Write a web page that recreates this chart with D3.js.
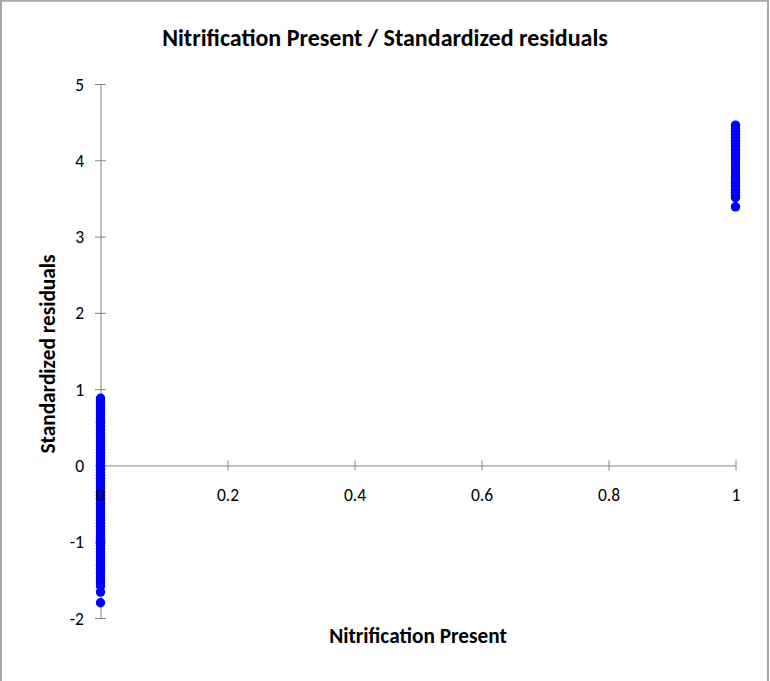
<!DOCTYPE html>
<html>
<head>
<meta charset="utf-8">
<script src="https://cdn.jsdelivr.net/npm/d3@7"></script>
<style>
  html, body { margin: 0; padding: 0; background: #fff; }
  svg { display: block; font-family: Carlito, Calibri, Lato, "Open Sans", sans-serif; }
</style>
</head>
<body>
<svg id="chart" width="770" height="681"></svg>
<script>
// Standardized residuals by nitrification presence (0 = absent, 1 = present)
const residualsAbsent = [
  0.88, 0.84, 0.80, 0.77, 0.74, 0.70, 0.66, 0.62, 0.58, 0.55, 0.51, 0.47,
  0.43, 0.40, 0.36, 0.32, 0.28, 0.25, 0.21, 0.17, 0.13, 0.10, 0.06, 0.02,
  -0.02, -0.05, -0.09, -0.13, -0.17, -0.20, -0.24, -0.28, -0.31, -0.35,
  -0.39, -0.43, -0.46, -0.50, -0.54, -0.57, -0.61, -0.65, -0.69, -0.72,
  -0.76, -0.80, -0.83, -0.87, -0.91, -0.94, -0.98, -1.02, -1.05, -1.09,
  -1.13, -1.17, -1.20, -1.24, -1.28, -1.31, -1.35, -1.39, -1.42, -1.46,
  -1.50, -1.54, -1.58, -1.66, -1.80
];
const residualsPresent = [
  4.46, 4.42, 4.38, 4.34, 4.30, 4.26, 4.22, 4.18, 4.14, 4.10, 4.06, 4.02,
  3.98, 3.94, 3.90, 3.86, 3.82, 3.78, 3.74, 3.70, 3.66, 3.62, 3.58, 3.54,
  3.51, 3.39
];
const groupValues = [0, 1];
const xTicks = [0, 0.2, 0.4, 0.6, 0.8, 1];
const yTicks = [-2, -1, 0, 1, 2, 3, 4, 5];

const titleText = "Nitrification Present / Standardized residuals";
const xTitle = "Nitrification Present";
const yTitle = "Standardized residuals";

const points = [
  ...residualsAbsent.map(r => ({ x: groupValues[0], y: r })),
  ...residualsPresent.map(r => ({ x: groupValues[1], y: r }))
];

const svg = d3.select("#chart");
const W = 770, H = 681;
const plot = { left: 100.5, right: 735.5, top: 84, bottom: 618 };

const x = d3.scaleLinear().domain([0, 1]).range([plot.left, plot.right]);
const y = d3.scaleLinear().domain([-2, 5]).range([plot.bottom, plot.top]);

const axisColor = "#868686";
const tickFont = 17.5;
const xLabelOffset = 36;

// outer chart frame (bottom edge runs past the canvas)
svg.append("rect")
  .attr("x", 1).attr("y", 0.75)
  .attr("width", 767).attr("height", H + 10)
  .attr("fill", "#fff")
  .attr("stroke", "#a6a6a6")
  .attr("stroke-width", 2);

// title
svg.append("text")
  .attr("x", 385).attr("y", 46)
  .attr("text-anchor", "middle")
  .attr("font-size", 24).attr("font-weight", "bold")
  .attr("fill", "#000")
  .text(titleText);

// y axis: crossing tick marks, labels on the left
const yAxisG = svg.append("g").attr("transform", `translate(${x(0)},0)`);
yAxisG.call(d3.axisLeft(y).tickValues(yTicks).tickSize(0).tickFormat(""));
yAxisG.attr("font-family", null).attr("font-size", null);
yAxisG.select(".domain").attr("stroke", axisColor);
yAxisG.selectAll(".tick line")
  .attr("x1", -5.5).attr("x2", 5.5)
  .attr("stroke", axisColor);
yAxisG.selectAll(".tick text")
  .attr("x", -16.5).attr("dy", "0.35em")
  .attr("text-anchor", "end")
  .style("font-size", tickFont + "px").attr("fill", "#000")
  .text(d => String(d));

// x axis along y = 0
const xAxisG = svg.append("g").attr("transform", `translate(0,${y(0)})`);
xAxisG.call(d3.axisBottom(x).tickValues(xTicks.filter(v => v !== 0)).tickSize(0).tickFormat(""));
xAxisG.attr("font-family", null).attr("font-size", null);
xAxisG.select(".domain").attr("stroke", axisColor);
xAxisG.selectAll(".tick line")
  .attr("y1", -5).attr("y2", 5)
  .attr("stroke", axisColor);
xAxisG.selectAll(".tick text")
  .attr("y", xLabelOffset).attr("dy", null)
  .attr("text-anchor", "middle")
  .style("font-size", tickFont + "px").attr("fill", "#000")
  .text(d => String(d));

// axis titles
svg.append("text")
  .attr("x", (plot.left + plot.right) / 2).attr("y", 643)
  .attr("text-anchor", "middle")
  .attr("font-size", 21.3).attr("font-weight", "bold")
  .text(xTitle);

svg.append("text")
  .attr("transform", `translate(55,${(plot.top + plot.bottom) / 2 + 3}) rotate(-90)`)
  .attr("text-anchor", "middle")
  .attr("font-size", 21.3).attr("font-weight", "bold")
  .text(yTitle);

// points
svg.append("g").selectAll("circle")
  .data(points)
  .join("circle")
  .attr("cx", d => x(d.x))
  .attr("cy", d => y(d.y))
  .attr("r", 4.7)
  .attr("fill", "#0000ff");

// the "0" category label sits on top of the point column
svg.append("text")
  .attr("x", x(xTicks[0])).attr("y", y(0) + xLabelOffset)
  .attr("text-anchor", "middle")
  .style("font-size", tickFont + "px").attr("fill", "#000")
  .text(String(xTicks[0]));
</script>
</body>
</html>
